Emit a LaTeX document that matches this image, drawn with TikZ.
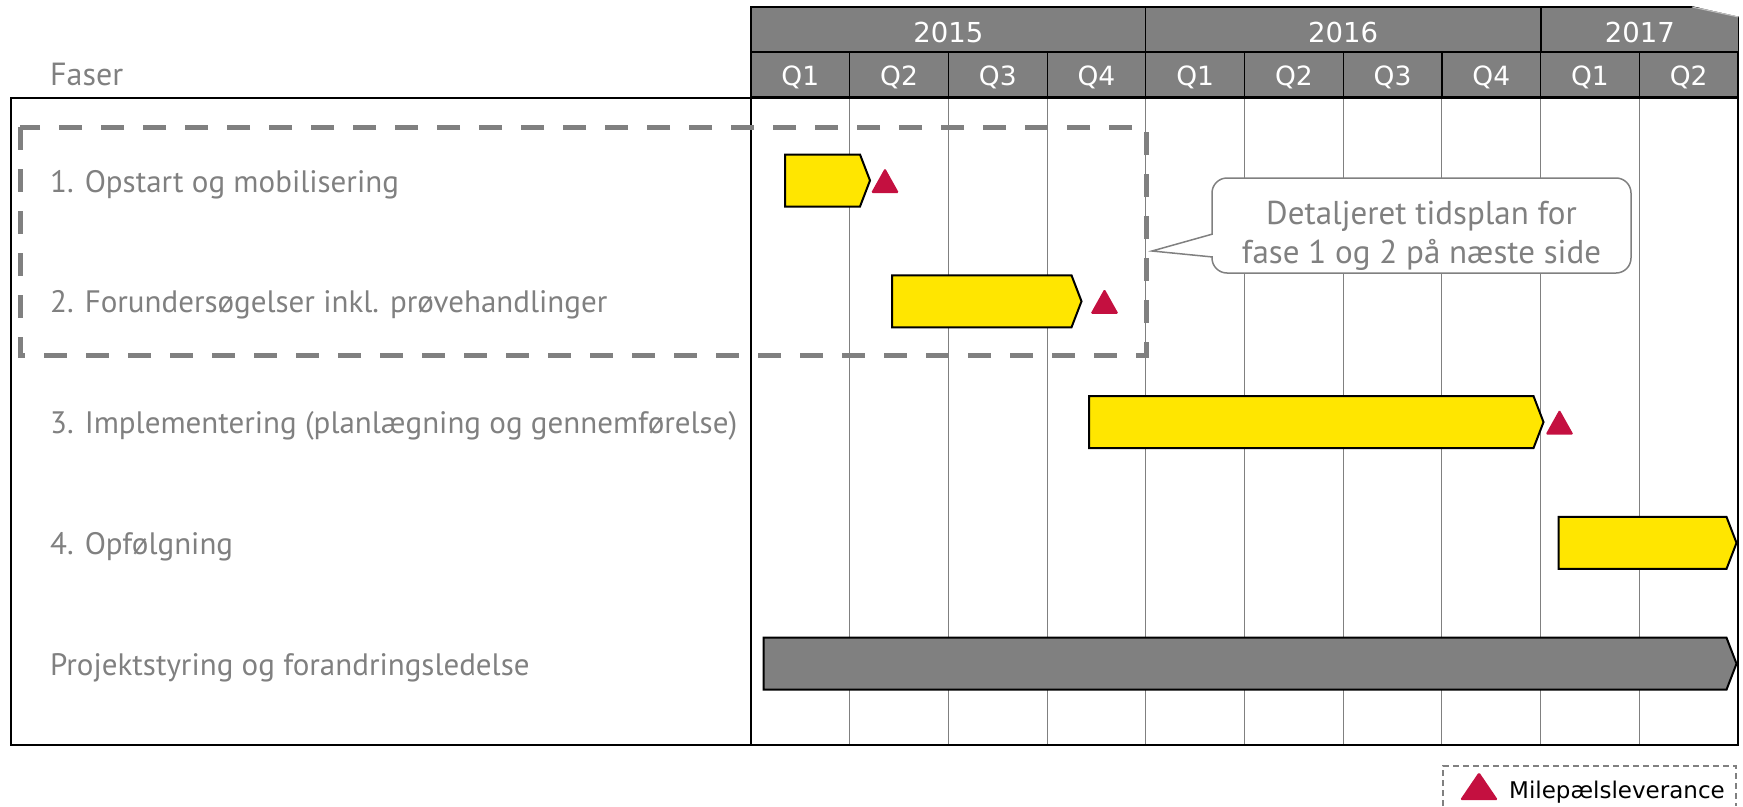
\documentclass[tikz,border=0pt]{standalone}
\usepackage{fontspec}
\setmainfont{PT Sans}
\newfontfamily\hdrfont{DejaVu Sans}
\definecolor{hdrgray}{RGB}{128,128,128}
\definecolor{txtgray}{RGB}{128,128,128}
\definecolor{eyyellow}{RGB}{255,230,0}
\definecolor{msred}{RGB}{196,16,64}

\newcommand{\phasebar}[4]{%
  \draw[barline, fill=#4] (#1,#3-26) -- (#2-10,#3-26) -- (#2,#3) -- (#2-10,#3+26) -- (#1,#3+26) -- cycle;}
\newcommand{\milestone}[4]{%
  \fill[msred, rounded corners=1.5pt] (#1-#3/2,#2+#4/2) -- (#1,#2-#4/2) -- (#1+#3/2,#2+#4/2) -- cycle;}

\begin{document}
\begin{tikzpicture}[x=1pt, y=-1pt,
  hdrcell/.style={draw=black, line width=1.2pt, fill=hdrgray, text=white, inner sep=0pt},
  yearcell/.style={hdrcell, minimum height=45pt, text height=25pt, text depth=0pt, font=\hdrfont\fontsize{27.5}{30}\selectfont},
  qcell/.style={hdrcell, minimum width=98.7pt, minimum height=45pt, text height=21pt, text depth=0pt, font=\hdrfont\fontsize{26.5}{30}\selectfont},
  fase/.style={anchor=base west, inner sep=0pt, text=txtgray, font=\fontsize{31}{36}\selectfont},
  gridline/.style={draw=hdrgray, line width=1pt},
  barline/.style={draw=black, line width=2pt, line join=miter},
  calltext/.style={align=center, inner sep=0pt, text=txtgray, font=\fontsize{33}{39}\selectfont},
]
   \useasboundingbox (0,0) rectangle (1743,806);

   \node[yearcell, minimum width=394.8pt] (y2015) at (948.4,29.5) {2015};
   \node[yearcell, minimum width=394.8pt] (y2016) at (1343.2,29.5) {2016};
   \node[yearcell, minimum width=197.4pt] (y2017) at (1639.9,29.5) {2017};
   \fill[white] (1692,6) -- (1741,6) -- (1741,17) -- cycle;
   \draw[hdrgray!50, line width=1pt] (1692,7) -- (1738.5,17);
   \foreach \q [count=\i from 0] in {1,2,3,4,1,2,3,4,1,2}
      \node[qcell] (q\i) at ({751+98.7*(\i+0.5)},74.5) {Q\q};

   \foreach \i in {1,...,9}
      \draw[gridline] ({751+98.7*\i},99) -- ({751+98.7*\i},744);
   \draw[line width=2pt] (11,98) rectangle (1738,745);
   \draw[line width=2pt] (751,98) -- (751,745);

   \node[fase, font=\fontsize{32}{36}\selectfont] (faser) at (50,85) {Faser};
   \node[fase] (f1) at (50,192) {1. Opstart og mobilisering};
   \node[fase] (f2) at (50,312.8) {2. Forundersøgelser inkl. prøvehandlinger};
   \node[fase] (f3) at (50,433.6) {3. Implementering (planlægning og gennemførelse)};
   \node[fase] (f4) at (50,554.4) {4. Opfølgning};
   \node[fase] (f5) at (50,675.2) {Projektstyring og forandringsledelse};

   \draw[draw=hdrgray, line width=5pt, dash pattern=on 23pt off 19pt] (20,127) -- (20,355) -- (1146,355) -- (1146,127) -- cycle;

   \phasebar{785}{870}{180.5}{eyyellow}
   \milestone{885}{180.5}{28}{25}
   \phasebar{892}{1081.5}{301.3}{eyyellow}
   \milestone{1104.5}{301.3}{28}{25}
   \phasebar{1089}{1543.5}{422.1}{eyyellow}
   \milestone{1559.5}{422.1}{28}{25}
   \phasebar{1558.5}{1736.5}{542.9}{eyyellow}
   \phasebar{763.5}{1736.5}{663.7}{hdrgray}

   \node[draw=txtgray, fill=white, line width=1.5pt, rounded corners=15pt, minimum width=419pt, minimum height=95pt] (callout) at (1421.5,225.5) {};
   \coordinate (calltip) at (1152,251);
   \filldraw[draw=txtgray, fill=white, line width=1.5pt, line join=miter] ([shift={(1.5,8.5)}]callout.west) -- (calltip) -- ([shift={(1.5,31.5)}]callout.west);
   \node[calltext] (calltxt) at (1421.5,235.5) {Detaljeret tidsplan for\\fase 1 og 2 på næste side};

   \draw[draw=hdrgray, line width=1.5pt, dash pattern=on 6pt off 4pt] (1443,806) -- (1443,766) -- (1736,766) -- (1736,806);
   \milestone{1479}{786}{38}{28}
   \node[anchor=base west, inner sep=0pt, font=\hdrfont\fontsize{23}{26}\selectfont] (legtxt) at (1509,798) {Milepælsleverance};
\end{tikzpicture}
\end{document}
